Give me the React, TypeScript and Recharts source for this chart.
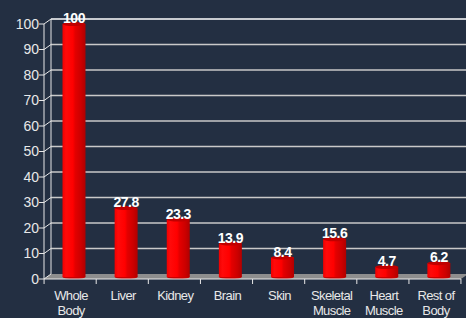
import React from "react";
import { BarChart, Bar, XAxis, YAxis, CartesianGrid, LabelList } from "recharts";

const categories = ["Whole Body", "Liver", "Kidney", "Brain", "Skin", "Skeletal Muscle", "Heart Muscle", "Rest of Body"];
const labelLine1 = ["Whole", "Liver", "Kidney", "Brain", "Skin", "Skeletal", "Heart", "Rest of"];
const labelLine2 = ["Body", "", "", "", "", "Muscle", "Muscle", "Body"];
const values = [100, 27.8, 23.3, 13.9, 8.4, 15.6, 4.7, 6.2];
const yTicks = [0, 10, 20, 30, 40, 50, 60, 70, 80, 90, 100];

const data = categories.map((c, i) => ({ name: c, idx: i, value: values[i] }));

const BG = "#232f42";
const DX = 7;
const DY = 5;

const gridLine = (props: any) => {
  const { x1, y1, x2, index } = props;
  const bottom = props.y + props.height;
  const isFloor = Math.abs(y1 - bottom) < 1;
  const isTop = Math.abs(y1 - props.y) < 1;
  const col = isTop ? "#ffffff" : "#c9c9c9";
  return (
    <g key={`g-${index}`}>
      {isFloor && (
        <polygon
          points={`${x1},${y1} ${x1 + DX},${y1 - DY} ${x2 + DX},${y1 - DY} ${x2},${y1}`}
          fill="#8e8e8e"
        />
      )}
      {!isFloor && (
        <line x1={x1 + DX} y1={y1 - DY} x2={x2 + DX} y2={y1 - DY} stroke={col} strokeWidth={1.3} />
      )}
      <line x1={x1} y1={y1} x2={x1 + DX} y2={y1 - DY} stroke="#e8e8e8" strokeWidth={1} />
      {isTop && <line x1={x1 + DX} y1={y1 - DY} x2={x1 + DX} y2={bottom - DY} stroke="#e8e8e8" strokeWidth={1} />}
    </g>
  );
};

const CylBar = (props: any) => {
  const { x, y, width, height } = props;
  if (height <= 0) return null;
  const sx = x + 3.5;
  const ry = 2;
  const id = "cylGrad";
  return (
    <g>
      <defs>
        <linearGradient id={id} x1="0" y1="0" x2="1" y2="0">
          <stop offset="0%" stopColor="#f00000" />
          <stop offset="15%" stopColor="#ff0a0a" />
          <stop offset="45%" stopColor="#ff0000" />
          <stop offset="55%" stopColor="#e40000" />
          <stop offset="80%" stopColor="#cc0000" />
          <stop offset="100%" stopColor="#b00000" />
        </linearGradient>
      </defs>
      <ellipse cx={sx + width / 2} cy={y + height - ry} rx={width / 2} ry={ry} fill="#c80000" />
      <rect x={sx} y={y} width={width} height={height - ry} fill={`url(#${id})`} />
      <ellipse cx={sx + width / 2} cy={y} rx={width / 2} ry={ry} fill="#c00000" />
    </g>
  );
};

const ValueLabel = (props: any) => {
  const { x, y, width, value } = props;
  return (
    <text
      x={x + 3.5 + width / 2}
      y={y - 1}
      textAnchor="middle"
      fill="#ffffff"
      fontSize={14}
      fontWeight="bold"
      fontFamily="Liberation Sans, Arial, sans-serif"
      letterSpacing={-0.5}
    >
      {value}
    </text>
  );
};

const XTick = (props: any) => {
  const { x, y, payload, index } = props;
  const i = payload.index ?? index;
  const half = 26;
  return (
    <g>
      <line x1={x - half} y1={y} x2={x - half} y2={y + 5} stroke="#e8e8e8" />
      {i === categories.length - 1 && (
        <line x1={x + half} y1={y} x2={x + half} y2={y + 5} stroke="#e8e8e8" />
      )}
      <text
        x={x + 1}
        y={y + 21}
        textAnchor="middle"
        fill="#e8e8e8"
        fontSize={13}
        fontFamily="Liberation Sans, Arial, sans-serif"
        letterSpacing={-0.6}
      >
        <tspan x={x + 1}>{labelLine1[i]}</tspan>
        <tspan x={x + 1} dy={15}>{labelLine2[i]}</tspan>
      </text>
    </g>
  );
};

export default function App() {
  return (
    <div style={{ width: 466, height: 318, background: BG, position: "absolute", left: 0, top: 0 }}>
      <style>{"body{margin:0;}"}</style>
      <BarChart
        width={466}
        height={318}
        data={data}
        margin={{ top: 24, right: 5, bottom: 0, left: 0 }}
        barCategoryGap={0}
      >
        <CartesianGrid vertical={false} horizontal={gridLine} stroke="#c9c9c9" />
        <XAxis
          dataKey="name"
          height={39}
          axisLine={{ stroke: "#e8e8e8" }}
          tickLine={false}
          interval={0}
          tick={<XTick />}
          tickMargin={0}
          tickSize={0}
        />
        <YAxis
          domain={[0, 100]}
          ticks={yTicks}
          width={44}
          axisLine={{ stroke: "#e8e8e8" }}
          tickLine={{ stroke: "#e8e8e8" }}
          tickSize={5}
          tick={{ fill: "#e8e8e8", fontSize: 14, fontFamily: "Liberation Sans, Arial, sans-serif" }}
          tickMargin={0}
          interval={0}
        />
        <Bar dataKey="value" barSize={23} shape={<CylBar />} isAnimationActive={false}>
          <LabelList dataKey="value" content={<ValueLabel />} />
        </Bar>
      </BarChart>
    </div>
  );
}
